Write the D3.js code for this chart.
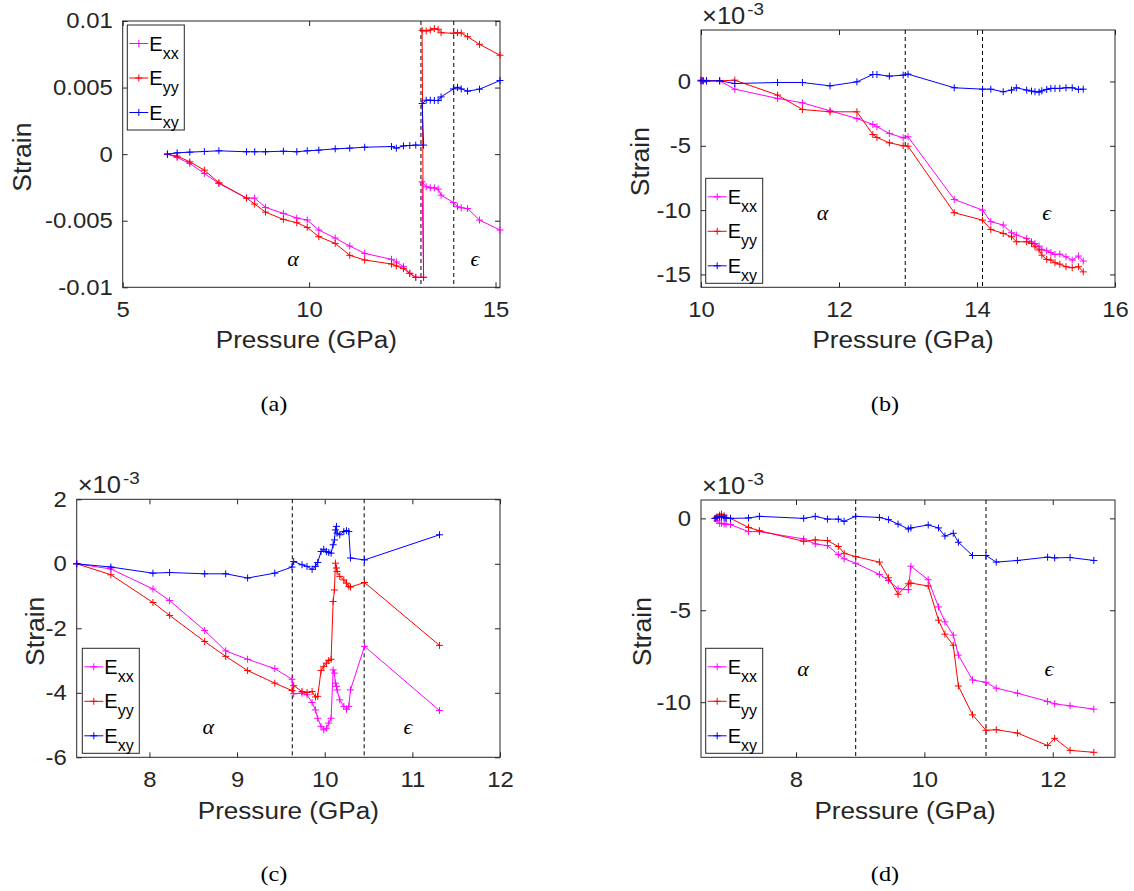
<!DOCTYPE html>
<html><head><meta charset="utf-8">
<script src="https://d3js.org/d3.v7.min.js"></script>
<style>body{margin:0;background:#fff}svg{display:block}</style>
</head><body>
<svg id="c" width="1134" height="891"></svg>
<script>
// ---------- DATA (strain values in units of 1e-3) ----------
const seriesNames = ["xx", "yy", "xy"];
const seriesColors = ["#ff00ff", "#ff0000", "#0000ff"];

// Panel (a)
const pressureA = [6.20, 6.46, 6.80, 7.19, 7.58, 8.32, 8.54, 8.83, 9.31, 9.67, 9.95, 10.26, 10.70, 11.09, 11.49, 12.21, 12.34, 12.53, 12.70, 12.86, 13.07,
  13.03, 13.14, 13.25, 13.36, 13.46, 13.54, 13.87, 13.98, 14.08, 14.25, 14.57, 15.12];
const exxA = [0, -0.25, -0.7, -1.45, -2.2, -3.3, -3.3, -4.0, -4.45, -4.8, -4.95, -5.7, -6.3, -6.9, -7.45, -7.9, -8.1, -8.45, -8.95, -9.25, -9.25,
  -2.08, -2.45, -2.53, -2.53, -2.63, -3.08, -3.63, -3.95, -4.03, -4.08, -4.95, -5.7];
const eyyA = [0, -0.15, -0.575, -1.2, -2.15, -3.3, -3.75, -4.35, -4.9, -5.15, -5.5, -6.2, -6.7, -7.6, -7.95, -8.25, -8.4, -8.6, -8.95, -9.25, -9.25,
  9.3, 9.25, 9.32, 9.43, 9.38, 9.12, 9.08, 9.12, 9.1, 8.82, 8.25, 7.43];
const exyA = [0, 0.1, 0.15, 0.2, 0.25, 0.18, 0.18, 0.18, 0.22, 0.18, 0.25, 0.3, 0.4, 0.45, 0.52, 0.57, 0.45, 0.62, 0.65, 0.68, 0.68,
  3.8, 4.05, 4.05, 4.03, 4.03, 4.3, 4.9, 5.02, 4.9, 4.73, 4.88, 5.53];
const xTicksA = [5, 10, 15];
const yTicksA = [-10, -5, 0, 5, 10];
const yTickLabelsA = ["-0.01", "-0.005", "0", "0.005", "0.01"];
const phaseLinesA = [13.0, 13.88];

// Panel (b)
const pressureB = [10.0, 10.03, 10.08, 10.27, 10.49, 11.11, 11.47, 11.87, 12.26, 12.49, 12.55, 12.73, 12.93, 13.00, 13.67, 14.08, 14.20, 14.38, 14.50,
  14.57, 14.72, 14.79, 14.84, 14.90, 14.94, 15.01, 15.07, 15.13, 15.20, 15.29, 15.38, 15.47, 15.54];
const exxB = [0.05, 0.03, 0.02, 0.05, -0.6, -1.32, -1.66, -2.28, -2.88, -3.34, -3.52, -4.04, -4.38, -4.3, -9.17, -10.0, -10.9, -11.16, -11.76,
  -11.94, -12.2, -12.46, -12.6, -12.8, -13.05, -13.16, -13.3, -13.45, -13.42, -13.63, -13.88, -13.57, -13.96];
const eyyB = [0.1, 0.08, 0.08, 0.05, 0.1, -1.06, -2.18, -2.36, -2.36, -4.12, -4.35, -4.77, -5.0, -5.03, -10.2, -10.78, -11.5, -11.81, -12.07,
  -12.46, -12.46, -12.59, -12.85, -13.1, -13.5, -13.83, -13.88, -14.09, -14.2, -14.4, -14.48, -14.4, -14.8];
const exyB = [0.05, 0.05, 0.05, 0.05, -0.16, -0.08, -0.08, -0.34, -0.03, 0.54, 0.54, 0.41, 0.49, 0.57, -0.49, -0.6, -0.6, -0.8, -0.67,
  -0.49, -0.67, -0.75, -0.8, -0.83, -0.73, -0.62, -0.54, -0.54, -0.54, -0.49, -0.49, -0.62, -0.6];
const xTicksB = [10, 12, 14, 16];
const yTicksB = [-15, -10, -5, 0];
const yTickLabelsB = ["-15", "-10", "-5", "0"];
const phaseLinesB = [12.96, 14.08];

// Panel (c)
const pressureC = [7.17, 7.56, 8.04, 8.23, 8.63, 8.87, 9.12, 9.43, 9.627, 9.646, 9.741, 9.798, 9.856, 9.894, 9.920, 9.958, 9.989, 10.019, 10.046,
  10.073, 10.096, 10.111, 10.122, 10.134, 10.141, 10.172, 10.218, 10.248, 10.275, 10.294, 10.454, 11.31];
const exxC = [0, -0.16, -0.78, -1.14, -2.07, -2.7, -2.96, -3.25, -3.58, -4.03, -4.01, -4.06, -4.30, -4.53, -4.79, -5.04, -5.15, -5.10, -4.94,
  -4.79, -3.29, -3.39, -3.70, -3.80, -3.91, -4.22, -4.42, -4.51, -4.42, -3.91, -2.56, -4.55];
const eyyC = [0, -0.34, -1.2, -1.6, -2.41, -2.87, -3.31, -3.70, -3.93, -3.78, -3.96, -3.99, -3.96, -4.13, -4.11, -3.31, -3.18, -3.08, -3.0,
  -2.96, -1.17, -0.81, 0.02, -0.13, -0.24, -0.39, -0.5, -0.6, -0.7, -0.72, -0.58, -2.53];
const exyC = [0, -0.10, -0.29, -0.27, -0.31, -0.31, -0.44, -0.29, -0.10, 0.07, -0.03, -0.08, -0.17, -0.08, 0.04, 0.38, 0.45, 0.38, 0.35,
  0.33, 0.59, 0.74, 1.05, 1.16, 0.95, 0.90, 1.0, 1.03, 1.0, 0.18, 0.12, 0.9];
const xTicksC = [8, 9, 10, 11, 12];
const yTicksC = [-6, -4, -2, 0, 2];
const yTickLabelsC = ["-6", "-4", "-2", "0", "2"];
const phaseLinesC = [9.63, 10.45];

// Panel (d)
const pressureD = [6.74, 6.77, 6.81, 6.84, 6.88, 6.91, 6.98, 7.26, 7.43, 8.12, 8.30, 8.49, 8.66, 8.75, 8.93, 9.30, 9.44, 9.59, 9.75, 9.79,
  10.06, 10.22, 10.32, 10.45, 10.53, 10.75, 10.96, 11.12, 11.45, 11.92, 12.03, 12.27, 12.64];
const exxD = [0, -0.13, -0.27, -0.27, -0.31, -0.31, -0.34, -0.72, -0.72, -1.12, -1.39, -1.48, -1.97, -2.2, -2.44, -3.05, -3.38, -3.83, -3.88, -2.6,
  -3.34, -4.82, -5.63, -6.35, -7.44, -8.79, -8.92, -9.24, -9.51, -9.96, -10.09, -10.2, -10.38];
const eyyD = [0, 0.09, 0.18, 0.23, 0.14, 0.05, 0, -0.49, -0.67, -1.25, -1.17, -1.21, -1.53, -1.9, -2.08, -2.38, -3.23, -4.13, -3.56, -3.52,
  -3.68, -5.54, -6.30, -6.90, -9.12, -10.69, -11.53, -11.5, -11.68, -12.36, -11.97, -12.62, -12.73];
const exyD = [0, 0.05, 0.09, 0.09, 0.05, 0, 0, 0.02, 0.11, 0, 0.11, -0.04, -0.04, -0.16, 0.11, 0.05, -0.07, -0.31, -0.58, -0.52,
  -0.36, -0.52, -0.96, -0.81, -1.3, -2.02, -2.02, -2.38, -2.29, -2.11, -2.15, -2.13, -2.29];
const xTicksD = [8, 10, 12];
const yTicksD = [-10, -5, 0];
const yTickLabelsD = ["-10", "-5", "0"];
const phaseLinesD = [8.93, 10.96];

const xLabel = "Pressure (GPa)";
const yLabel = "Strain";
const exponentText = ["\u00d710", "-3"];
const phaseNames = ["\u03b1", "\u03f5"];

// ---------- LAYOUT ----------
const SANS = "'Liberation Sans', Arial, Helvetica, sans-serif";
const SERIF = "'Liberation Serif', 'Times New Roman', serif";
const AX = "#262626";
const WIDEN = 1.11;

const panels = [
  {box: [122.7, 21, 500, 287.3], xd: [5, 15.12], yd: [-10, 10], P: pressureA, S: [exxA, eyyA, exyA],
   xt: xTicksA, yt: yTicksA, ytl: yTickLabelsA, ph: phaseLinesA, greek: [[9.57, -7.8], [14.45, -7.8]],
   leg: [127.3, 25], expo: false, cap: "(a)", capXY: [274, 411], xlY: 348, xlDX: -5, ylX: 22},
  {box: [701, 30, 1115, 287.3], xd: [10, 16], yd: [-16, 4], P: pressureB, S: [exxB, eyyB, exyB],
   xt: xTicksB, yt: yTicksB, ytl: yTickLabelsB, ph: phaseLinesB, greek: [[11.76, -10.2], [15.01, -10.2]],
   leg: [705.7, 178.3], expo: true, cap: "(b)", capXY: [885, 411], xlY: 348, xlDX: -5, ylX: 640},
  {box: [76.7, 499.3, 500, 757.3], xd: [7.17, 12], yd: [-6, 2], P: pressureC, S: [exxC, eyyC, exyC],
   xt: xTicksC, yt: yTicksC, ytl: yTickLabelsC, ph: phaseLinesC, greek: [[8.67, -5.06], [10.95, -5.06]],
   leg: [82.3, 648.3], expo: true, cap: "(c)", capXY: [274, 881], xlY: 819, xlDX: 0, ylX: 35},
  {box: [701, 500, 1115, 757.3], xd: [6.52, 12.97], yd: [-13, 1], P: pressureD, S: [exxD, eyyD, exyD],
   xt: xTicksD, yt: yTicksD, ytl: yTickLabelsD, ph: phaseLinesD, greek: [[8.11, -8.16], [11.94, -8.16]],
   leg: [705.7, 648.3], expo: true, cap: "(d)", capXY: [885, 881], xlY: 819, xlDX: -3, ylX: 642}
];

const svg = d3.select("#c");
svg.append("rect").attr("width", 1134).attr("height", 891).attr("fill", "#fff");

const plusPath = "M-3.5,0H3.5M0,-3.5V3.5";

function widen(sel, k) {
  sel.each(function () {
    const L = this.getComputedTextLength();
    if (L > 0) {
      this.setAttribute("textLength", (L * k).toFixed(2));
      this.setAttribute("lengthAdjust", "spacingAndGlyphs");
    }
  });
}

panels.forEach(p => {
  const [x0, y0, x1, y1] = p.box;
  const x = d3.scaleLinear().domain(p.xd).range([x0, x1]);
  const y = d3.scaleLinear().domain(p.yd).range([y1, y0]);
  const g = svg.append("g");

  const styleAxis = sel => {
    sel.select(".domain").remove();
    sel.selectAll("line").attr("stroke", AX);
    sel.selectAll("text").attr("fill", AX).style("font-family", SANS).style("font-size", "21.5px");
  };
  const xb = g.append("g").attr("transform", `translate(0,${y1})`)
    .call(d3.axisBottom(x).tickValues(p.xt).tickFormat(d3.format("d")).tickSizeInner(-5).tickSizeOuter(0).tickPadding(14.5))
    .call(styleAxis);
  g.append("g").attr("transform", `translate(0,${y0})`)
    .call(d3.axisTop(x).tickValues(p.xt).tickFormat("").tickSizeInner(-5).tickSizeOuter(0))
    .call(styleAxis);
  const yl = g.append("g").attr("transform", `translate(${x0},0)`)
    .call(d3.axisLeft(y).tickValues(p.yt).tickFormat((d, i) => p.ytl[i]).tickSizeInner(-5).tickSizeOuter(0).tickPadding(10))
    .call(styleAxis);
  g.append("g").attr("transform", `translate(${x1},0)`)
    .call(d3.axisRight(y).tickValues(p.yt).tickFormat("").tickSizeInner(-5).tickSizeOuter(0))
    .call(styleAxis);
  widen(xb.selectAll("text"), WIDEN);
  widen(yl.selectAll("text"), WIDEN);
  g.append("rect").attr("x", x0).attr("y", y0).attr("width", x1 - x0).attr("height", y1 - y0)
    .attr("fill", "none").attr("stroke", AX).attr("stroke-width", 1);

  // phase boundary lines
  g.selectAll(".ph").data(p.ph).enter().append("line")
    .attr("x1", d => x(d)).attr("x2", d => x(d)).attr("y1", y0).attr("y2", y1)
    .attr("stroke", "#000").attr("stroke-width", 1).attr("stroke-dasharray", "4,3");

  // series
  const line = d3.line().x(d => x(d[0])).y(d => y(d[1]));
  p.S.forEach((vals, si) => {
    const pts = p.P.map((pr, i) => [pr, vals[i]]);
    g.append("path").attr("d", line(pts)).attr("fill", "none")
      .attr("stroke", seriesColors[si]).attr("stroke-width", 1);
    g.selectAll(null).data(pts).enter().append("path")
      .attr("d", plusPath).attr("transform", d => `translate(${x(d[0])},${y(d[1])})`)
      .attr("stroke", seriesColors[si]).attr("stroke-width", 1).attr("fill", "none");
  });

  // phase names
  p.greek.forEach((gp, i) => {
    g.append("text").attr("x", x(gp[0])).attr("y", y(gp[1]))
      .attr("text-anchor", "middle").attr("dominant-baseline", "central")
      .style("font-family", SERIF).style("font-style", "italic").style("font-size", "22px")
      .text(phaseNames[i]);
  });

  // exponent
  if (p.expo) {
    const t = g.append("text").attr("x", x0 + 1).attr("y", y0 - 6)
      .style("font-family", SANS).attr("fill", AX);
    const t1 = t.append("tspan").style("font-size", "23px").text(exponentText[0]);
    const t2 = t.append("tspan").attr("dy", -9).attr("dx", 2).style("font-size", "17px").text(exponentText[1]);
    widen(t1, WIDEN);
    widen(t2, WIDEN);
  }

  // axis labels
  const xlab = g.append("text").attr("x", (x0 + x1) / 2 + p.xlDX).attr("y", p.xlY).attr("text-anchor", "middle")
    .style("font-family", SANS).style("font-size", "23.5px").attr("fill", AX).text(xLabel);
  widen(xlab, WIDEN);
  g.append("text").attr("transform", `translate(${p.ylX},${(y0 + y1) / 2 + 3}) rotate(-90)`)
    .attr("text-anchor", "middle").attr("dominant-baseline", "central")
    .style("font-family", SANS).style("font-size", "26.5px").attr("fill", AX).text(yLabel);

  // caption
  const cap = g.append("text").attr("x", p.capXY[0]).attr("y", p.capXY[1]).attr("text-anchor", "middle")
    .style("font-family", SERIF).style("font-size", "22px").attr("fill", "#000").text(p.cap);
  widen(cap, 1.1);

  // legend
  const [lx, ly] = p.leg;
  const lg = g.append("g").attr("transform", `translate(${lx},${ly})`);
  lg.append("rect").attr("width", 57).attr("height", 105).attr("fill", "#fff").attr("stroke", AX).attr("stroke-width", 1);
  seriesNames.forEach((nm, i) => {
    const cy = 18.5 + i * 34.5;
    lg.append("line").attr("x1", 2).attr("x2", 21).attr("y1", cy).attr("y2", cy)
      .attr("stroke", seriesColors[i]).attr("stroke-width", 1);
    lg.append("path").attr("d", plusPath).attr("transform", `translate(11.5,${cy})`)
      .attr("stroke", seriesColors[i]).attr("fill", "none");
    const t = lg.append("text").attr("x", 22).attr("y", cy + 7)
      .style("font-family", SANS).style("font-size", "20px").attr("fill", "#000");
    t.append("tspan").text("E");
    t.append("tspan").attr("dy", 8).style("font-size", "16px").text(nm);
  });
});
</script>
</body></html>
